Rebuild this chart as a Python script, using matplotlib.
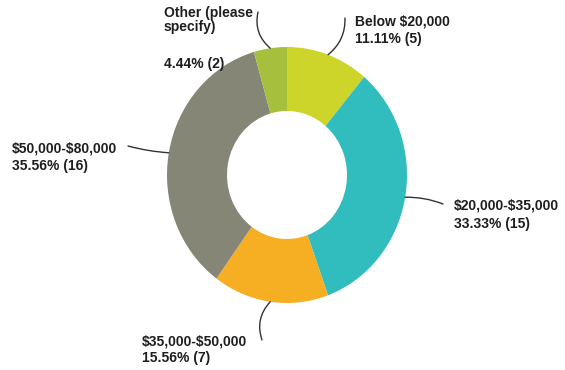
import numpy as np
import matplotlib
matplotlib.use("Agg")
import matplotlib.pyplot as plt

plt.rcParams["text.parse_math"] = False

# Survey responses by household income bracket
categories = ["Below $20,000", "$20,000-$35,000", "$35,000-$50,000",
              "$50,000-$80,000", "Other (please specify)"]
counts = [5, 15, 7, 16, 2]
colors = ["#cdd42a", "#31bcbd", "#f6ae23", "#868676", "#a6bf3d"]

W, H = 565, 370
cx, cy = 287, 175          # donut centre, pixels from top-left
rx, ry = 120, 128          # outer radii in pixels

fig = plt.figure(figsize=(W / 100, H / 100), dpi=100)
ax = fig.add_axes([0, 0, 1, 1])

wedges, _ = ax.pie(counts, colors=colors, startangle=90, counterclock=False,
                   radius=1.0, wedgeprops=dict(width=0.5, edgecolor="none"),
                   frame=True)
ax.set_aspect("auto")
ax.set_xlim(-cx / rx, (W - cx) / rx)
ax.set_ylim(-(H - cy) / ry, cy / ry)
ax.axis("off")


def px(x, y):
    """pixel position (top-left origin) -> data coordinates"""
    return ((x - cx) / rx, (cy - y) / ry)


total = sum(counts)
pct = [100 * c / total for c in counts]
value_labels = [f"{p:.2f}% ({c})" for p, c in zip(pct, counts)]

font = dict(family=["Liberation Sans", "DejaVu Sans"], fontsize=10,
            fontweight="bold", color="#1e1e1e", va="baseline", ha="left")

# label lines: (text, x, baseline y) in pixels
label_lines = [
    [(categories[0], 355, 25), (value_labels[0], 355, 43)],
    [(categories[1], 454, 210), (value_labels[1], 454, 228)],
    [(categories[2], 142, 345), (value_labels[2], 142, 362)],
    [(categories[3], 12, 153), (value_labels[3], 12, 170)],
    [("Other (please", 164, 17), ("specify)", 164, 31), (value_labels[4], 164, 68)],
]
for lines in label_lines:
    for txt, x, y in lines:
        ax.text(*px(x, y), txt, **font)

# leader lines from the middle of each wedge's outer edge
leader_ends = [(345, 18), (443, 204), (262, 340), (128, 146), (258, 12)]
leader_rad = [-0.25, 0.1, -0.3, 0.05, 0.3]
for w, end, rad in zip(wedges, leader_ends, leader_rad):
    ang = np.deg2rad((w.theta1 + w.theta2) / 2)
    start = (np.cos(ang), np.sin(ang))
    ax.annotate("", xy=start, xytext=px(*end),
                arrowprops=dict(arrowstyle="-", color="#333333", lw=1,
                                shrinkA=0, shrinkB=0,
                                connectionstyle=f"arc3,rad={rad}"))

fig.savefig("out.png", dpi=100)
